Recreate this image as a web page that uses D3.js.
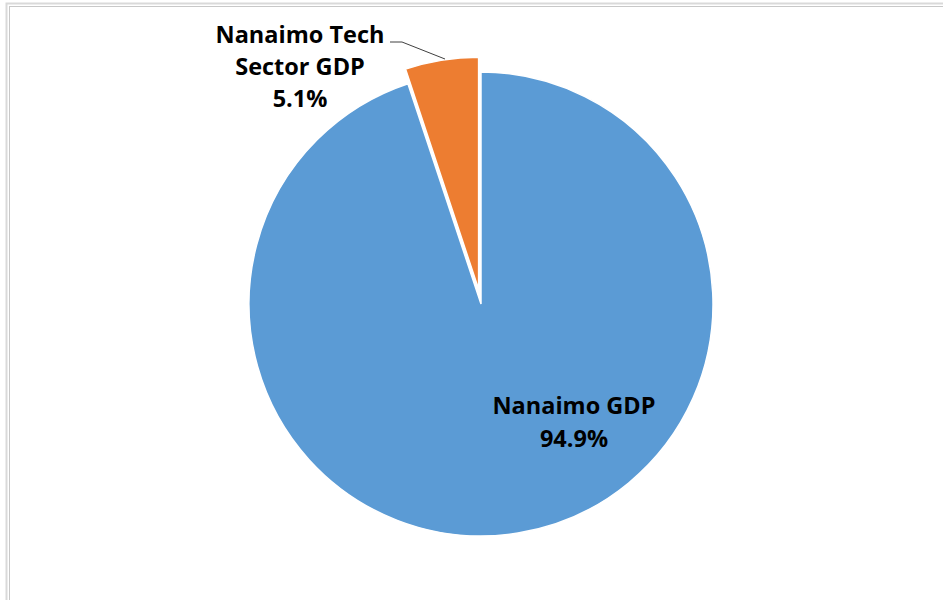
<!DOCTYPE html>
<html>
<head>
<meta charset="utf-8">
<script src="https://cdn.jsdelivr.net/npm/d3@7"></script>
<style>
  body { margin: 0; background: #fff; }
  text { font-family: "Open Sans", sans-serif; font-weight: 700; fill: #000; }
</style>
</head>
<body>
<div class="chart"></div>
<script>
// chart data
var sliceNames = ["Nanaimo GDP", "Nanaimo Tech Sector GDP"];
var sliceValues = [94.9, 5.1];
var sliceColors = ["#5B9BD5", "#ED7D31"];
var labelLines = [["Nanaimo GDP", "94.9%"], ["Nanaimo Tech", "Sector GDP", "5.1%"]];

var svgWidth = 943;
var svgHeight = 600;

var svg = d3.select(".chart")
  .append("svg")
  .attr("width", svgWidth)
  .attr("height", svgHeight);

// double grey frame
svg.append("rect")
  .attr("x", 6.5).attr("y", 3.5)
  .attr("width", 960).attr("height", 620)
  .attr("fill", "none").attr("stroke", "#d9d9d9").attr("stroke-width", 2);
svg.append("rect")
  .attr("x", 9.5).attr("y", 6.5)
  .attr("width", 960).attr("height", 620)
  .attr("fill", "none").attr("stroke", "#c8c8c8").attr("stroke-width", 1);

var cx = 481, cy = 304, radius = 232;
var explode = 15;

var pie = d3.pie().sort(null).value(d => d);
var arcs = pie(sliceValues);
var arc = d3.arc().innerRadius(0).outerRadius(radius);

var chartGroup = svg.append("g")
  .attr("transform", `translate(${cx}, ${cy})`);

chartGroup.selectAll("path")
  .data(arcs)
  .enter()
  .append("path")
  .attr("d", arc)
  .attr("fill", (d, i) => sliceColors[i])
  .attr("stroke", "white")
  .attr("stroke-width", 1.5)
  .attr("transform", (d, i) => {
    if (i === 0) return null;
    var mid = (d.startAngle + d.endAngle) / 2;
    return `translate(${explode * Math.sin(mid)}, ${-explode * Math.cos(mid)})`;
  });

// leader line for the small slice
svg.append("polyline")
  .attr("points", "390,42 402,42 445,59")
  .attr("fill", "none")
  .attr("stroke", "#404040")
  .attr("stroke-width", 1);

// labels
var labelPos = [{x: 574, y: 414, gap: 33}, {x: 300, y: 43, gap: 32}];
labelLines.forEach((lines, i) => {
  var t = svg.append("text")
    .attr("text-anchor", "middle")
    .attr("font-size", "23.5px");
  lines.forEach((s, j) => {
    t.append("tspan")
      .attr("x", labelPos[i].x)
      .attr("y", labelPos[i].y + j * labelPos[i].gap)
      .text(s);
  });
});
</script>
</body>
</html>
